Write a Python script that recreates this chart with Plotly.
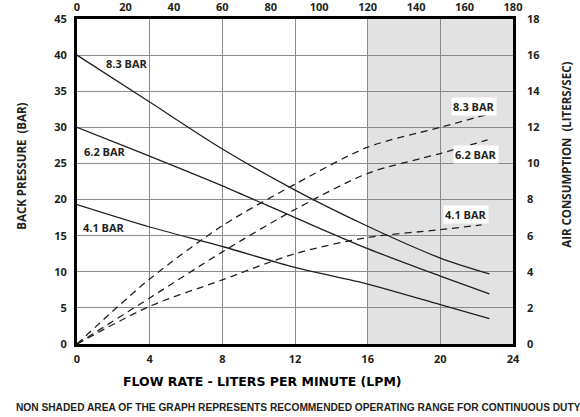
import plotly.graph_objects as go

# ---- data ----
flow_bp = [0, 4, 8, 12, 16, 20, 22.7]
bp_83 = [40, 33.5, 27.0, 21.3, 16.3, 11.9, 9.7]
bp_62 = [30, 26.0, 21.9, 17.5, 13.2, 9.4, 6.93]
bp_41 = [19.3, 16.2, 13.5, 10.6, 8.3, 5.45, 3.52]

flow_air_83 = [0, 4, 8, 12, 16, 20, 22.55]
air_83 = [0, 3.6, 6.55, 8.85, 10.9, 12.0, 12.7]
flow_air_62 = [0, 4, 8, 12, 16, 20, 22.6]
air_62 = [0, 2.55, 5.1, 7.45, 9.45, 10.55, 11.3]
flow_air_41 = [0, 4, 8, 12, 16, 20, 22.27]
air_41 = [0, 2.09, 3.55, 5.0, 5.9, 6.33, 6.6]

bottom_ticks = [0, 4, 8, 12, 16, 20, 24]
top_ticks = [0, 20, 40, 60, 80, 100, 120, 140, 160, 180]
left_ticks = [0, 5, 10, 15, 20, 25, 30, 35, 40, 45]
right_ticks = [0, 2, 4, 6, 8, 10, 12, 14, 16, 18]
shade_range = [16, 24]

INK = "#231f20"
tickfont = dict(family="Open Sans", size=11, color=INK, weight="bold")

L, R, T, B = 77, 67, 19, 72.5
W, H = 580, 417
PW, PH = W - L - R, H - T - B


def px(x):
    return (x - L) / PW


def py(y):
    return (H - B - y) / PH


fig = go.Figure()
solid = dict(color=INK, width=1.3)
dashed = dict(color=INK, width=1.3, dash="7px,5px")

for y in (bp_83, bp_62, bp_41):
    fig.add_trace(go.Scatter(x=flow_bp, y=y, mode="lines", line=dict(**solid, shape="spline", smoothing=0.8),
                             showlegend=False, hoverinfo="skip", xaxis="x", yaxis="y"))
for fx, y in ((flow_air_83, air_83), (flow_air_62, air_62), (flow_air_41, air_41)):
    fig.add_trace(go.Scatter(x=fx, y=y, mode="lines", line=dict(**dashed, shape="spline", smoothing=0.8),
                             showlegend=False, hoverinfo="skip", xaxis="x", yaxis="y2"))
# invisible trace to anchor top axis
fig.add_trace(go.Scatter(x=[top_ticks[0], top_ticks[-1]], y=[0, 0], mode="none", showlegend=False,
                         hoverinfo="skip", xaxis="x2", yaxis="y"))

fig.add_shape(type="rect", xref="x", yref="y", x0=shade_range[0], x1=shade_range[1], y0=0, y1=45,
              fillcolor="#e2e2e2", line=dict(width=0), layer="below")

lab = dict(family="Open Sans", size=11, color=INK, weight="bold")
for x, y, t in ((1.5, 38.9, "8.3 BAR"), (0.25, 26.6, "6.2 BAR"), (0.2, 16.2, "4.1 BAR")):
    fig.add_annotation(xref="x", yref="y", x=x, y=y, text=t, showarrow=False, font=lab,
                       xanchor="left", yanchor="middle")
for x, y, t in ((21.87, 32.9, "8.3 BAR"), (21.95, 26.2, "6.2 BAR"), (21.4, 18.0, "4.1 BAR")):
    fig.add_annotation(xref="x", yref="y", x=x, y=y, text=t, showarrow=False, font=lab,
                       bgcolor="white", borderpad=1, xanchor="center", yanchor="middle")

fig.add_annotation(xref="paper", yref="paper", x=px(262), y=py(382),
                   text="FLOW RATE - LITERS PER MINUTE (LPM)", showarrow=False,
                   font=dict(family="DejaVu Sans", size=12.5, color="black", weight="bold"),
                   xanchor="center", yanchor="middle")
fig.add_annotation(xref="paper", yref="paper", x=px(14), y=py(408),
                   text="NON SHADED AREA OF THE GRAPH REPRESENTS RECOMMENDED OPERATING RANGE FOR CONTINUOUS DUTY",
                   showarrow=False,
                   font=dict(family="Liberation Sans", size=10.2, color=INK, weight="bold"),
                   xanchor="left", yanchor="middle")
fig.add_annotation(xref="paper", yref="paper", x=px(22), y=py(167),
                   text="BACK PRESSURE  (BAR)", textangle=-90, showarrow=False,
                   font=dict(family="Open Sans", size=11.5, color=INK, weight="bold"),
                   xanchor="center", yanchor="middle")
fig.add_annotation(xref="paper", yref="paper", x=px(567), y=py(155),
                   text="AIR CONSUMPTION  (LITERS/SEC)", textangle=-90, showarrow=False,
                   font=dict(family="Open Sans", size=11.5, color=INK, weight="bold"),
                   xanchor="center", yanchor="middle")

grid = dict(showgrid=True, gridcolor="#8a8a8a", gridwidth=1)
fig.update_layout(
    width=W, height=H,
    margin=dict(l=L, r=R, t=T, b=B, pad=0),
    paper_bgcolor="white", plot_bgcolor="white",
    xaxis=dict(range=[0, 24], tickvals=bottom_ticks, ticks="", tickfont=tickfont, **grid,
               showline=True, linecolor="black", linewidth=3, mirror=True, zeroline=False,
               ticklabelstandoff=3, automargin=False),
    xaxis2=dict(range=[0, 180], tickvals=top_ticks, overlaying="x", side="top", anchor="y",
                ticks="", tickfont=tickfont, showgrid=False, zeroline=False, showline=False,
                ticklabelstandoff=5, automargin=False),
    yaxis=dict(range=[0, 45], tickvals=left_ticks, ticks="", tickfont=tickfont, **grid,
               showline=True, linecolor="black", linewidth=3, mirror=True, zeroline=False,
               ticklabelstandoff=5, automargin=False),
    yaxis2=dict(range=[0, 18], tickvals=right_ticks, overlaying="y", side="right", anchor="x",
                ticks="", tickfont=tickfont, showgrid=False, zeroline=False, showline=False,
                ticklabelstandoff=13, automargin=False),
)

fig.write_html("out.html", config={"displayModeBar": False},
               post_script="document.body.style.margin='0';document.body.style.overflow='hidden';")
